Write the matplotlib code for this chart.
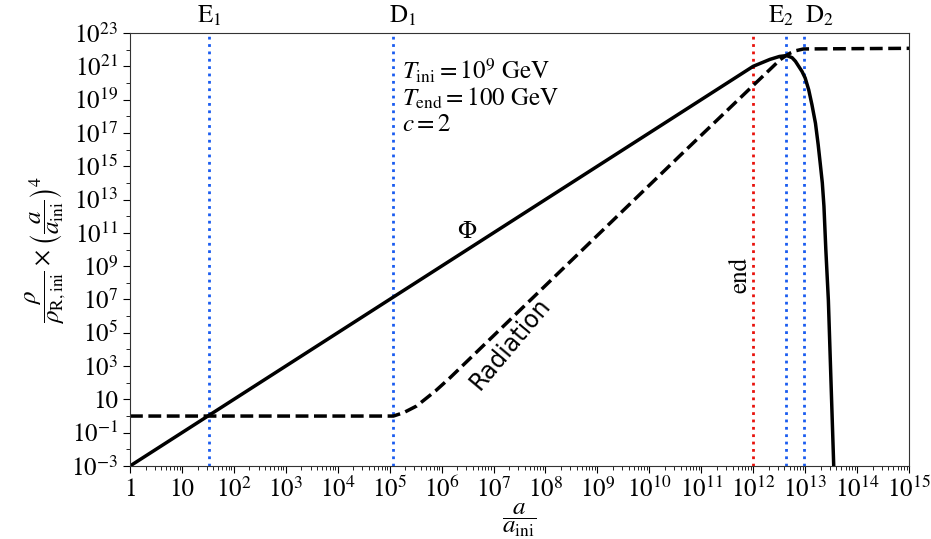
import numpy as np
import matplotlib
matplotlib.use('Agg')
import matplotlib.pyplot as plt
from matplotlib.ticker import FixedLocator, NullFormatter, LogLocator
import matplotlib.transforms as mtransforms

plt.rcParams['font.family'] = 'STIXGeneral'
plt.rcParams['mathtext.fontset'] = 'stix'

# scalar field Phi (solid)
a_phi = [1, 1.2e5, 4e10, 1e12, 2.1e12, 3.2e12, 4.4e12, 5.6e12, 6.5e12,
         8.7e12, 1e13, 1.17e13, 1.35e13, 1.58e13, 1.78e13, 1.95e13, 2.14e13,
         2.3e13, 2.5e13, 2.8e13, 3.15e13, 3.55e13]
rho_phi = [1e-3, 1.45e7, 1.6e18, 1e21, 2.6e21, 3.9e21, 4.4e21, 3.3e21, 2.0e21,
           4.9e20, 2e20, 3.9e19, 5e18, 3.8e17, 2e16, 1.5e15, 1e14,
           4e12, 1e10, 8.7e6, 1e2, 1e-3]

# radiation (dashed)
a_rad = [1, 1.18e5, 1.86e5, 3.3e5, 7.6e5, 1.48e6, 8e7, 4e10, 8.9e11,
         3.3e12, 4.2e12, 5.2e12, 6.5e12, 9.3e12, 1e15]
rho_rad = [1, 1, 1.6, 4.0, 32, 210, 3.5e7, 4.7e15, 5e19,
           2.5e21, 4.2e21, 6.3e21, 8.5e21, 1.1e22, 1.2e22]

# vertical markers
mark_names = [r'E$_1$', r'D$_1$', r'E$_2$', r'D$_2$']
mark_pos = [33, 1.18e5, 4.2e12, 9.4e12]
label_pos = [33, 1.8e5, 3.5e12, 1.9e13]
a_end = 1e12

xticks = [10.0**k for k in range(0, 16)]
xlabels = ['1', '10'] + [r'$10^{%d}$' % k for k in range(2, 16)]
yticks = [10.0**k for k in range(-3, 24, 2)]
ylabels = [r'$10^{%d}$' % k if k != 1 else '10' for k in range(-3, 24, 2)]

fig = plt.figure(figsize=(9.31, 5.39), dpi=100)
ax = fig.add_axes([0.1396, 0.1354, 0.8368, 0.8034])

blue = '#1a5cf0'
for xp in mark_pos:
    ax.axvline(xp, color=blue, ls=':', lw=2)
ax.axvline(a_end, color='#e8120c', ls=':', lw=2)

ax.plot(a_phi, rho_phi, color='k', lw=2.5)
ax.plot(a_rad, rho_rad, color='k', lw=2.5, ls='--')

ax.set_xscale('log')
ax.set_yscale('log')
ax.set_xlim(1, 1e15)
ax.set_ylim(1e-3, 1e23)

ax.xaxis.set_major_locator(FixedLocator(xticks))
ax.set_xticklabels(xlabels)
ax.xaxis.set_minor_locator(LogLocator(base=10, subs=np.arange(2, 10), numticks=100))
ax.xaxis.set_minor_formatter(NullFormatter())
ax.yaxis.set_major_locator(FixedLocator(yticks))
ax.set_yticklabels(ylabels)
ax.yaxis.set_minor_locator(FixedLocator([10.0**k for k in range(-2, 23, 2)]))
ax.yaxis.set_minor_formatter(NullFormatter())
ax.tick_params(which='both', labelsize=18)
ax.tick_params(which='major', length=5)
ax.tick_params(which='minor', length=3)
for s in ax.spines.values():
    s.set_color('#333333')

ax.set_xlabel(r'$\dfrac{a}{a_{\rm ini}}$', fontsize=18, labelpad=-1)
ax.set_ylabel(r'$\dfrac{\rho}{\rho_{\rm R,ini}}\times\left(\dfrac{a}{a_{\rm ini}}\right)^4$',
              fontsize=18, labelpad=2)

trans = mtransforms.blended_transform_factory(ax.transData, ax.transAxes)
for nm, xp in zip(mark_names, label_pos):
    ax.text(xp, 1.01, nm, transform=trans, ha='center', va='bottom', fontsize=18)

ax.text(1.7e5, 3.5e21, r'$T_{\rm ini} = 10^9$ GeV' + '\n' + r'$T_{\rm end} = 100$ GeV' + '\n' + r'$c = 2$',
        fontsize=18, va='top', ha='left', linespacing=1.05)
ax.text(3.1e6, 1.2e11, r'$\Phi$', fontsize=18, ha='center', va='center')
ax.text(2.1e7, 2.2e4, 'Radiation', family='DejaVu Sans', fontsize=17,
        rotation=50, ha='center', va='center')
ax.text(5.6e11, 2.8e8, 'end', fontsize=18, rotation=90, ha='center', va='center')

fig.savefig('out.png', dpi=100)
